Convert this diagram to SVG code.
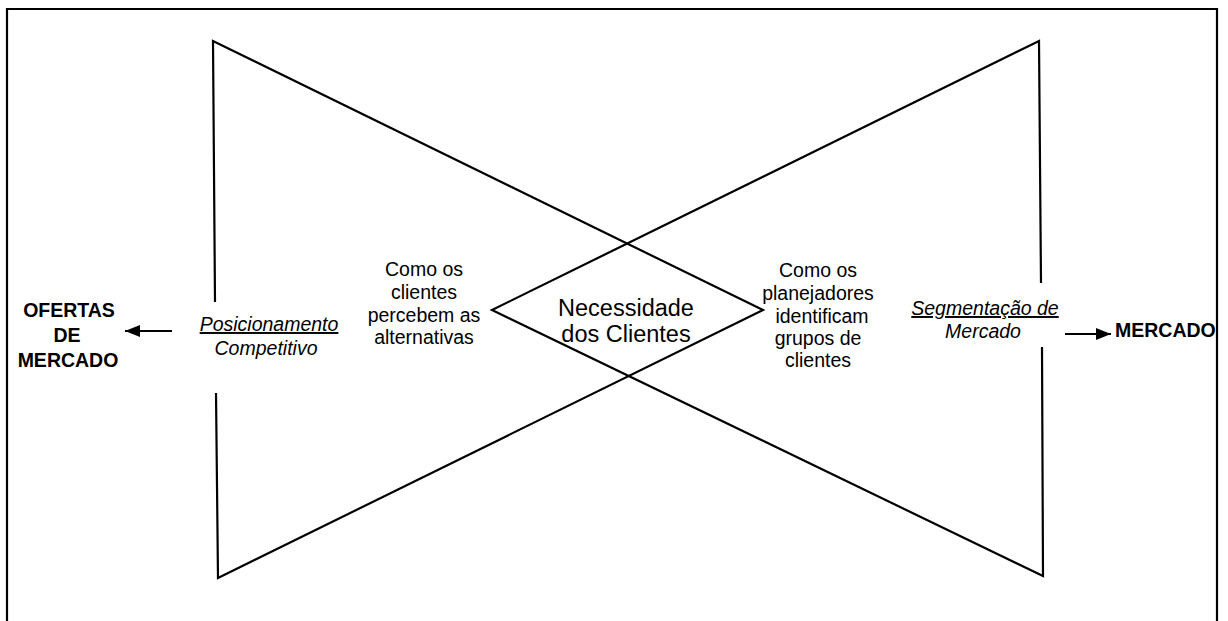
<svg xmlns="http://www.w3.org/2000/svg" width="1228" height="621" viewBox="0 0 1228 621">
<style>
.ln{fill:none;stroke:#000;stroke-width:2.2;stroke-linejoin:miter}
.t{font-family:"Liberation Sans",Arial,sans-serif;font-size:19.5px;fill:#000;text-anchor:middle}
.b{font-weight:bold}
.i{font-style:italic}
.u{text-decoration:underline}
.big{font-size:23.5px}
</style>
<defs>
<marker id="ah" markerWidth="15" markerHeight="12" refX="15" refY="6" orient="auto" markerUnits="userSpaceOnUse" viewBox="0 0 15 12">
<path d="M0,0 L15,6 L0,12 Z" fill="#000"/>
</marker>
</defs>
<rect x="0" y="0" width="1228" height="621" fill="#fff"/>
<g id="frame">
<path class="ln" d="M7,640 L7,9 L1217,9 L1217,640"/>
</g>
<g id="left-triangle">
<path class="ln" d="M215,302 L213,41 L763,310 L218,578 L216,393"/>
</g>
<g id="right-triangle">
<path class="ln" d="M1041,283 L1039,41 L492,310 L1043,576 L1042,347"/>
</g>
<g id="node-ofertas">
<text class="t b" x="69" y="317">OFERTAS</text>
<text class="t b" x="67" y="342">DE</text>
<text class="t b" x="68" y="367">MERCADO</text>
</g>
<g id="node-posicionamento">
<text class="t i u" x="269" y="331">Posicionamento</text>
<text class="t i" x="266" y="355">Competitivo</text>
</g>
<g id="node-como-clientes">
<text class="t" x="424" y="276">Como os</text>
<text class="t" x="424" y="299">clientes</text>
<text class="t" x="424" y="322">percebem as</text>
<text class="t" x="424" y="344">alternativas</text>
</g>
<g id="node-necessidade">
<text class="t big" x="626" y="316">Necessidade</text>
<text class="t big" x="626" y="342">dos Clientes</text>
</g>
<g id="node-como-planejadores">
<text class="t" x="818" y="277">Como os</text>
<text class="t" x="818" y="300">planejadores</text>
<text class="t" x="822" y="323">identificam</text>
<text class="t" x="818" y="345">grupos de</text>
<text class="t" x="818" y="367">clientes</text>
</g>
<g id="node-segmentacao">
<text class="t i u" x="985" y="315">Segmentação de</text>
<text class="t i" x="983" y="338">Mercado</text>
</g>
<g id="node-mercado">
<text class="t b" x="1115" y="337" style="text-anchor:start">MERCADO</text>
</g>
<g id="connectors">
<line class="ln" x1="172" y1="331" x2="125" y2="331" marker-end="url(#ah)"/>
<line class="ln" x1="1065" y1="334" x2="1111" y2="334" marker-end="url(#ah)"/>
</g>
</svg>
